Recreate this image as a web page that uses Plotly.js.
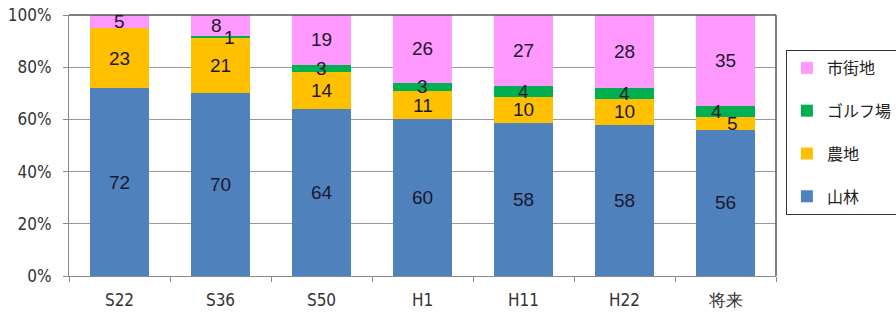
<!DOCTYPE html>
<html>
<head>
<meta charset="utf-8">
<script src="https://cdn.plot.ly/plotly-3.0.1.min.js"></script>
<style>html,body{margin:0;padding:0;background:#fff;}#chart{width:896px;height:315px;}</style>
</head>
<body>
<div id="chart"></div>
<script>
const categories = ['S22', 'S36', 'S50', 'H1', 'H11', 'H22', '将来'];
const forest = [72, 70, 64, 60, 58, 58, 56];     // 山林
const farmland = [23, 21, 14, 11, 10, 10, 5];    // 農地
const golf = [0, 1, 3, 3, 4, 4, 4];               // ゴルフ場
const urban = [5, 8, 19, 26, 27, 28, 35];         // 市街地
const seriesNames = ['山林', '農地', 'ゴルフ場', '市街地'];
const seriesColors = ['#4F81BD', '#FFC000', '#00B050', '#FF99FF'];
const tickVals = [0, 20, 40, 60, 80, 100];

const seriesData = [forest, farmland, golf, urban];
const traces = seriesData.map((vals, i) => ({
  type: 'bar',
  name: seriesNames[i],
  x: categories,
  y: vals,
  legendgroup: 'g' + i,
  legendrank: 1000 - i,
  marker: {color: seriesColors[i], line: {width: 0}},
  hoverinfo: 'skip'
}));

// data labels, placed at the middle of each (normalised) segment
const labelFont = {family: 'Liberation Sans, Arial, sans-serif', size: 19, color: '#1c1830'};
const labelShift = {'S36|ゴルフ場': 9, 'S36|市街地': -4, '将来|ゴルフ場': -9, '将来|農地': 7};
const annotations = [];
categories.forEach((cat, j) => {
  const total = seriesData.reduce((s, arr) => s + arr[j], 0);
  let base = 0;
  seriesData.forEach((arr, i) => {
    const v = arr[j];
    const pct = v / total * 100;
    if (v > 0) {
      annotations.push({
        x: cat, y: base + pct / 2, xref: 'x', yref: 'y',
        text: String(v), showarrow: false, font: labelFont,
        xshift: labelShift[cat + '|' + seriesNames[i]] || 0
      });
    }
    base += pct;
  });
});

const tickFont = {family: '"DejaVu Sans Condensed", "DejaVu Sans", sans-serif', size: 17, color: '#333'};
const layout = {
  width: 896, height: 315,
  margin: {l: 69, r: 120, t: 15, b: 39, autoexpand: false},
  barmode: 'stack',
  barnorm: 'percent',
  bargap: 0.425,
  paper_bgcolor: '#fff', plot_bgcolor: '#fff',
  showlegend: true,
  legend: {
    x: 1.014, xanchor: 'left', y: 0.866, yanchor: 'top',
    traceorder: 'grouped', tracegroupgap: 19,
    bordercolor: '#333', borderwidth: 1,
    font: {family: '"Noto Sans CJK JP", sans-serif', size: 16, color: '#222'},
    itemwidth: 30
  },
  xaxis: {
    type: 'category',
    tickfont: tickFont,
    showline: true, linecolor: '#888', linewidth: 1,
    ticks: 'outside', tickson: 'boundaries', ticklen: 5, tickcolor: '#888',
    ticklabelstandoff: 9,
    showgrid: false, fixedrange: true
  },
  yaxis: {
    range: [0, 100],
    tickvals: tickVals,
    ticktext: tickVals.map(v => v + '%'),
    tickfont: tickFont,
    showgrid: true, gridcolor: '#999', gridwidth: 1,
    showline: true, linecolor: '#888', linewidth: 1,
    ticks: 'outside', ticklen: 5, tickcolor: '#888',
    ticklabelstandoff: 8,
    zeroline: false, fixedrange: true
  },
  annotations: annotations,
  shapes: [
    {type: 'line', xref: 'paper', yref: 'paper', x0: 0, x1: 1, y0: 1, y1: 1, line: {color: '#555', width: 1.5}},
    {type: 'line', xref: 'paper', yref: 'paper', x0: 1, x1: 1, y0: 0, y1: 1, line: {color: '#555', width: 1.5}}
  ]
};

Plotly.newPlot('chart', traces, layout, {staticPlot: true, displayModeBar: false});
</script>
</body>
</html>
